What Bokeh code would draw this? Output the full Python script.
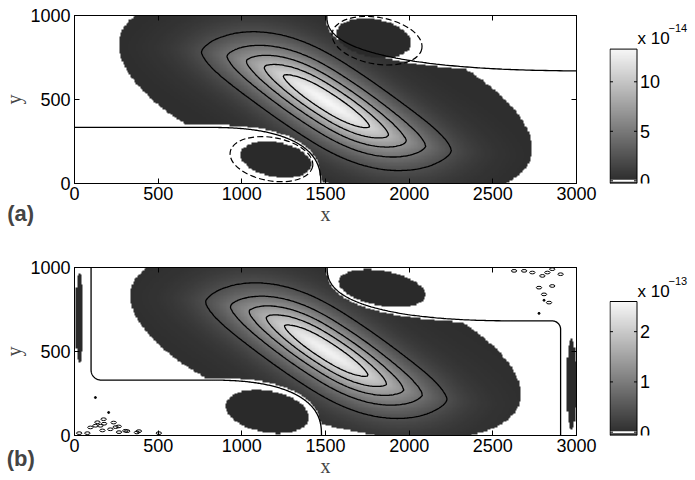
import numpy as np
from bokeh.plotting import figure
from bokeh.layouts import column, row
from bokeh.models import (LinearColorMapper, Label, FixedTicker, LinearAxis,
                          Range1d, CustomJSTickFormatter)
from bokeh.core.properties import value
from bokeh.embed import file_html
from bokeh.resources import INLINE

# ---------------- values ----------------
X_TICKS = [0, 500, 1000, 1500, 2000, 2500, 3000]
Y_TICKS = [0, 500, 1000]
X_SPAN = [0, 3000]
Y_SPAN = [0, 1000]
PANEL_TAGS = ["(a)", "(b)"]
AXIS_NAMES = ["x", "y"]

# panel (a): colour scale in units of 1e-14
CB_A_RANGE = [-0.27, 13.3]
CB_A_TICKS = [0, 5, 10]
CB_A_EXP = "\u221214"
PEAK_A = 13.2
LEVELS_A = [2.2, 4.4, 6.6, 8.8, 11.0]

# panel (b): colour scale in units of 1e-13
CB_B_RANGE = [-0.066, 2.6]
CB_B_TICKS = [0, 1, 2]
CB_B_EXP = "\u221213"
PEAK_B = 2.52
LEVELS_B = [0.42, 0.84, 1.26, 1.68, 2.1]

# core of the positive patch: x0, y0, bend amplitude, bend length,
# along scale, along power, across scale, across power
CORE_A = [1505, 490, 330, 515, 630, 2.3, 169, 1.5]
CORE_B = [1505, 505, 330, 515, 610, 2.3, 165, 1.5]
# outer edge of the positive patch: cx, cy, half length, half width, tilt (deg)
EDGE_A = [1500, 517, 1280, 490, -16.5]
EDGE_B = [1500, 539, 1210, 460, -16.5]
# dark patches: cx, cy, semi-x, semi-y, tilt (deg)
NEG_A = [[1203, 142, 215, 103, -10], [1789, 865, 226, 113, -10]]
NEG_B = [[1152, 142, 252, 124, -10], [1838, 876, 263, 104, -10],
         [30, 700, 24, 268, 0], [2970, 304, 30, 268, 0]]
# dashed contours around the dark patches of (a)
RING_A = [[1177, 145, 250, 129, -10], [1808, 850, 272, 139, -10]]
# dividing lines: lower = [level, arc start, arc end, wall x, corner r]
LOW_A = [334, 790, 1472, None, 0]
LOW_B = [330, 790, 1476, 99, 60]
# upper = [level, arc start, arc end, wall x, corner r]
UP_A = [670, 1508, 3150, None, 0]
UP_B = [682, 1510, 2700, 2905, 50]
# small closed contours of the noise in (b)
NOISE_X = [28, 77, 95, 125, 137, 155, 167, 174, 177, 214, 234, 246, 264, 266, 304, 315, 373, 385, 504,
           2627, 2687, 2736, 2796, 2826, 2855, 2905, 2776, 2806, 2836, 2855]
NOISE_Y = [14, 14, 48, 58, 79, 58, 30, 97, 70, 37, 77, 50, 54, 20, 28, 26, 18, 26, 14,
           980, 980, 970, 950, 970, 990, 960, 880, 840, 791, 890]
DOTS_X = [125, 204, 2776, 2806]
DOTS_Y = [226, 137, 727, 805]

NX, NY = 360, 120
GAP = 14

# page geometry (px)
FRAME_L, FRAME_W, FRAME_H = 72, 504, 168
TOP_A, BOT_A = 15, 50
TOP_B, BOT_B = 34, 45
MAIN_W, CB_W = 609, 85
BAR_PX_A, BAR_PX_B = 134.4, 134.0


def inside(X, Y, e):
    cx, cy, a, b, deg = e
    th = np.deg2rad(deg)
    dx, dy = X - cx, Y - cy
    u = dx * np.cos(th) + dy * np.sin(th)
    v = -dx * np.sin(th) + dy * np.cos(th)
    return (u / a) ** 2 + (v / b) ** 2 <= 1


def lower_line(spec, p=2.5):
    h, xa, xe, wall, r = spec
    t = np.linspace(np.pi / 2, 0, 150)
    arc_x = xa + (xe - xa) * np.cos(t) ** (2 / p)
    arc_y = h * np.sin(t) ** (2 / p)
    if wall is None:
        xs, ys = [0.0], [float(h)]
    else:
        a = np.linspace(np.pi, 1.5 * np.pi, 30)
        xs = [wall] + list(wall + r + r * np.cos(a))
        ys = [1000.0] + list(h + r + r * np.sin(a))
    return xs + list(arc_x), ys + list(arc_y), arc_x, arc_y


def upper_line(spec, p=2.5):
    h, xf, xb, wall, r = spec
    t = np.linspace(0, np.pi / 2, 150)
    arc_x = xb - (xb - xf) * np.cos(t) ** (2 / p)
    arc_y = 1000 - (1000 - h) * np.sin(t) ** (2 / p)
    keep = arc_x <= 3000
    arc_x, arc_y = arc_x[keep], arc_y[keep]
    xs, ys = list(arc_x), list(arc_y)
    if wall is None:
        xs.append(3000.0)
        ys.append(float(arc_y[-1]))
    else:
        a = np.linspace(np.pi / 2, 0, 30)
        xs += list(wall - r + r * np.cos(a))
        ys += list(h - r + r * np.sin(a))
        xs.append(wall)
        ys.append(0.0)
    return xs, ys, arc_x, arc_y


def core_field(X, Y, core, peak):
    x0, y0, ay, lt, as_, qs, an, qn = core
    cx = np.linspace(-900, 3900, 1400)
    cy = y0 - ay * np.tanh((cx - x0) / lt)
    seg = np.hypot(np.diff(cx), np.diff(cy))
    sc = np.concatenate([[0], np.cumsum(seg)])
    sc = sc - np.interp(x0, cx, sc)
    tx = np.gradient(cx)
    ty = np.gradient(cy)
    nrm = np.hypot(tx, ty)
    tx, ty = tx / nrm, ty / nrm
    px, py = X.ravel(), Y.ravel()
    s = np.empty(px.size)
    n = np.empty(px.size)
    step = 1500
    for i in range(0, px.size, step):
        qx, qy = px[i:i + step], py[i:i + step]
        d2 = (qx[:, None] - cx[None, :]) ** 2 + (qy[:, None] - cy[None, :]) ** 2
        k = np.argmin(d2, axis=1)
        s[i:i + step] = sc[k]
        n[i:i + step] = (qx - cx[k]) * (-ty[k]) + (qy - cy[k]) * tx[k]
    s = s.reshape(X.shape)
    n = n.reshape(X.shape)
    return peak * np.exp(-(np.abs(s) / as_) ** qs - (np.abs(n) / an) ** qn)


def build(core, edge, negs, low, up, peak, lo):
    xs = (np.arange(NX) + 0.5) * 3000 / NX
    ys = (np.arange(NY) + 0.5) * 1000 / NY
    X, Y = np.meshgrid(xs, ys)
    F = core_field(X, Y, core, peak)
    lx, ly, lax, lay = lower_line(low)
    ux, uy, uax, uay = upper_line(up)
    yl = np.where(X < low[1], low[0], np.interp(X, lax, lay))
    yl = np.where(X > low[2], -1e9, yl)
    yu = np.where(X > uax[-1], uay[-1], np.interp(X, uax, uay))
    yu = np.where(X < up[1], 1e9, yu)
    blob = inside(X, Y, edge) & (Y > yl + GAP) & (Y < yu - GAP)
    Z = np.full(X.shape, np.nan)
    Z[blob] = F[blob]
    for e in negs:
        Z[inside(X, Y, e)] = lo
    return xs, ys, F, Z, (lx, ly), (ux, uy)


pal = ["#%02x%02x%02x" % (g, g, g) for g in np.linspace(42, 248, 256).astype(int)]


def axis(ticks, labels=True, tick_len=5, standoff=4):
    ax = LinearAxis(ticker=FixedTicker(ticks=ticks))
    ax.major_tick_in = tick_len
    ax.major_tick_out = 0
    ax.minor_tick_line_color = None
    ax.axis_line_color = "black"
    ax.major_tick_line_color = "black"
    ax.major_label_text_font = "Liberation Sans"
    ax.major_label_text_font_size = "18px"
    ax.major_label_text_color = "black"
    ax.major_label_standoff = standoff
    if not labels:
        ax.formatter = CustomJSTickFormatter(code="return ''")
        ax.major_label_text_font_size = "1px"
        ax.major_label_standoff = 0
    return ax


def main_panel(tag, core, edge, negs, rings, low, up, peak, levels, cbr, top, bottom,
               tag_page_y, noise=False):
    lo, hi = cbr
    xs, ys, F, Z, lline, uline = build(core, edge, negs, low, up, peak, lo)
    mapper = LinearColorMapper(palette=pal, low=lo, high=hi, nan_color="white")
    p = figure(width=MAIN_W, height=top + FRAME_H + bottom,
               x_range=Range1d(*X_SPAN), y_range=Range1d(*Y_SPAN),
               min_border_left=FRAME_L, min_border_right=MAIN_W - FRAME_L - FRAME_W,
               min_border_top=top, min_border_bottom=bottom,
               x_axis_type=None, y_axis_type=None, title=None,
               output_backend="svg", toolbar_location=None)
    p.grid.visible = False
    p.outline_line_color = "black"
    p.image(image=[Z], x=X_SPAN[0], y=Y_SPAN[0], dw=X_SPAN[1] - X_SPAN[0],
            dh=Y_SPAN[1] - Y_SPAN[0], color_mapper=mapper)
    p.contour(x=xs, y=ys, z=F, levels=levels, line_color="black", line_width=1.3)
    p.line(lline[0], lline[1], line_color="black", line_width=1.3)
    p.line(uline[0], uline[1], line_color="black", line_width=1.3)
    for e in rings:
        p.ellipse(x=e[0], y=e[1], width=2 * e[2], height=2 * e[3], angle=np.deg2rad(e[4]),
                  fill_color=None, line_color="black", line_width=1.2, line_dash="6 3")
    if noise:
        p.ellipse(x=NOISE_X, y=NOISE_Y, width=32, height=16, fill_color=None,
                  line_color="black", line_width=1)
        p.scatter(x=DOTS_X, y=DOTS_Y, size=2, color="black")

    xa = axis(X_TICKS, standoff=3)
    xa.axis_label = AXIS_NAMES[0]
    xa.axis_label_standoff = 0
    xa.axis_label_text_font = "Liberation Serif"
    xa.axis_label_text_font_size = "20px"
    xa.axis_label_text_font_style = "normal"
    ya = axis(Y_TICKS, standoff=4)
    ya.axis_label = AXIS_NAMES[1]
    ya.axis_label_standoff = 2
    ya.axis_label_text_font = "Liberation Serif"
    ya.axis_label_text_font_size = "20px"
    ya.axis_label_text_font_style = "normal"
    p.add_layout(xa, "below")
    p.add_layout(ya, "left")
    p.add_layout(axis(X_TICKS, labels=False), "above")
    p.add_layout(axis(Y_TICKS, labels=False), "right")

    sx = (X_SPAN[1] - X_SPAN[0]) / FRAME_W
    sy = (Y_SPAN[1] - Y_SPAN[0]) / FRAME_H
    frame_bottom = top + FRAME_H   # inside this figure
    lbl = Label(x=(18 - FRAME_L) * sx, y=(frame_bottom - tag_page_y) * sy, text=tag,
                text_align="center", text_baseline="middle",
                text_font="Liberation Sans", text_font_style="bold",
                text_font_size="22px")
    p.add_layout(lbl, "right")
    return p, mapper


def cbar(mapper, cbr, ticks, exp, top, bottom, bar_px):
    lo, hi = cbr
    ppu = bar_px / (hi - lo)
    upx = 1 / 27.0
    x0 = -0.5 * upx
    c = figure(width=CB_W, height=top + FRAME_H + bottom,
               x_range=Range1d(x0, x0 + (CB_W - 1) * upx),
               y_range=Range1d(lo, lo + FRAME_H / ppu),
               min_border_left=0, min_border_right=1,
               min_border_top=top, min_border_bottom=bottom,
               x_axis_type=None, y_axis_type=None, title=None,
               output_backend="svg", toolbar_location=None)
    c.grid.visible = False
    c.outline_line_color = None
    grad = np.linspace(lo, hi, 256).reshape(256, 1)
    c.image(image=[grad], x=0, y=lo, dw=1, dh=hi - lo, color_mapper=mapper)
    c.segment(x0=[0], x1=[1], y0=[0], y1=[0], line_color="white", line_width=2)
    c.quad(left=[0], right=[1], bottom=[lo], top=[hi], fill_color=None,
           line_color="black", line_width=1)
    nt = len(ticks)
    c.segment(x0=[0] * nt, x1=[3 * upx] * nt, y0=ticks, y1=ticks, line_color="black")
    c.segment(x0=[1 - 3 * upx] * nt, x1=[1] * nt, y0=ticks, y1=ticks, line_color="black")
    c.text(x=[1 + 3 * upx] * nt, y=ticks, text=[str(t) for t in ticks],
           text_font=value("Liberation Sans"), text_font_size=value("18px"),
           text_align="left", text_baseline="middle", text_color="black")
    c.text(x=[1 + 0.5 * upx], y=[hi + 10.5 / ppu], text=["x 10"],
           text_font=value("Liberation Sans"), text_font_size=value("17px"),
           text_align="left", text_baseline="middle", text_color="black")
    c.text(x=[1 + 31.5 * upx], y=[hi + 21 / ppu], text=[exp],
           text_font=value("Liberation Sans"), text_font_size=value("11px"),
           text_align="left", text_baseline="middle", text_color="black")
    return c


pa, ma = main_panel(PANEL_TAGS[0], CORE_A, EDGE_A, NEG_A, RING_A, LOW_A, UP_A, PEAK_A,
                    LEVELS_A, CB_A_RANGE, top=TOP_A, bottom=BOT_A, tag_page_y=213)
ca = cbar(ma, CB_A_RANGE, CB_A_TICKS, CB_A_EXP, top=TOP_A, bottom=BOT_A, bar_px=BAR_PX_A)
pb, mb = main_panel(PANEL_TAGS[1], CORE_B, EDGE_B, NEG_B, [], LOW_B, UP_B, PEAK_B,
                    LEVELS_B, CB_B_RANGE, top=TOP_B, bottom=BOT_B,
                    tag_page_y=457.5 - (TOP_A + FRAME_H + BOT_A), noise=True)
cb = cbar(mb, CB_B_RANGE, CB_B_TICKS, CB_B_EXP, top=TOP_B, bottom=BOT_B, bar_px=BAR_PX_B)

layout = column(row(pa, ca), row(pb, cb))
open("out.html", "w").write(file_html(layout, INLINE))
